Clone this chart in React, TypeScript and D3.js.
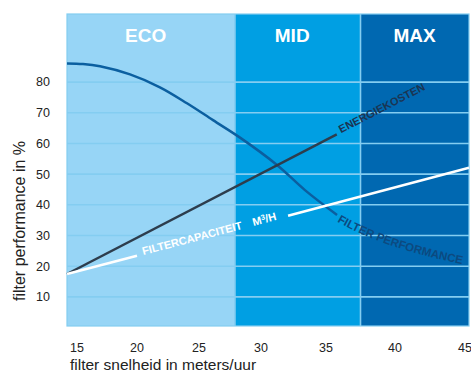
import React from 'react';
import * as d3 from 'd3';

const W = 471;
const H = 372;

// Tick labels
const xTicks = [15, 20, 25, 30, 35, 40, 45];
const yTicks = [10, 20, 30, 40, 50, 60, 70, 80];

// Bands (zones)
const bandNames = ['ECO', 'MID', 'MAX'];
const bandStart = [14.2, 27.9, 37.5];
const bandEnd = [27.9, 37.5, 45.3];
const bandLabelX = [20.7, 32.4, 41.4];
const bandColors = ['#97d5f6', '#009fe3', '#0068b1'];
const bandLabelY = 93.1;

// Series: filter performance (curve)
const perfX = [14.2, 15.5, 16.92, 19.42, 21.85, 24.03, 26.13, 28.31, 31.23, 33.38, 35.8];
const perfY = [86.1, 85.9, 85.15, 82.5, 78.3, 73.1, 67.6, 61.9, 53.0, 44.8, 36.7];

// Series: energiekosten (straight)
const energyX = [14.2, 35.78];
const energyY = [17.45, 62.98];

// Series: filtercapaciteit (straight, broken for label)
const capX = [14.2, 20.0, 32.08, 45.3];
const capY = [17.45, 23.4, 36.45, 52.1];

const FONT = '"Liberation Sans", Arial, Helvetica, sans-serif';
const GRID = '#84cdf1';

export default function App() {
  const x = d3
    .scaleLinear()
    .domain([14.2, 15, 20, 25, 30, 35, 40, 45, 45.3])
    .range([67, 77, 137, 199, 261, 326, 395, 465, 469]);
  const y = d3.scaleLinear().domain([0.5, 102.2]).range([326, 14]);

  const xMin = bandStart[0];
  const xMax = bandEnd[bandEnd.length - 1];
  const yMin = 0.5;
  const yMax = 102.2;

  const perfPts: [number, number][] = perfX.map((v, i) => [x(v), y(perfY[i])]);
  const energyPts: [number, number][] = energyX.map((v, i) => [x(v), y(energyY[i])]);
  const capPts: [number, number][] = capX.map((v, i) => [x(v), y(capY[i])]);

  const curve = d3.line().curve(d3.curveCatmullRom.alpha(0.5));
  const straight = d3.line();

  const eAng = (Math.atan2(energyPts[1][1] - energyPts[0][1], energyPts[1][0] - energyPts[0][0]) * 180) / Math.PI;
  const cAng = (Math.atan2(capPts[3][1] - capPts[0][1], capPts[3][0] - capPts[0][0]) * 180) / Math.PI;

  const pEnd = perfPts[perfPts.length - 1];
  const perfLabelPath = `M${pEnd[0]},${pEnd[1] + 6.5} Q${pEnd[0] + 48},${pEnd[1] + 35} ${pEnd[0] + 140},${pEnd[1] + 52}`;

  return (
    <svg width={W} height={H} style={{ position: 'absolute', left: 0, top: 0 }} fontFamily={FONT}>
      <rect x={0} y={0} width={W} height={H} fill="#ffffff" />
      {bandNames.map((b, i) => (
        <rect
          key={b}
          x={x(bandStart[i])}
          y={y(yMax)}
          width={x(bandEnd[i]) - x(bandStart[i])}
          height={y(yMin) - y(yMax)}
          fill={bandColors[i]}
        />
      ))}
      {yTicks.map((t) => (
        <line key={t} x1={x(xMin)} x2={x(xMax)} y1={y(t)} y2={y(t)} stroke={GRID} strokeWidth={1.6} />
      ))}
      {bandStart.slice(1).map((v, i) => (
        <line key={i} x1={x(v)} x2={x(v)} y1={y(yMax)} y2={y(yMin)} stroke={GRID} strokeWidth={1.6} />
      ))}
      <rect
        x={x(xMin)}
        y={y(yMax)}
        width={x(xMax) - x(xMin)}
        height={y(yMin) - y(yMax)}
        fill="none"
        stroke={GRID}
        strokeWidth={1.2}
      />
      {bandNames.map((b, i) => (
        <text
          key={b}
          x={x(bandLabelX[i])}
          y={y(bandLabelY)}
          textAnchor="middle"
          fill="#ffffff"
          fontWeight="bold"
          fontSize={19}
        >
          {b}
        </text>
      ))}

      <path d={curve(perfPts) || ''} fill="none" stroke="#0b5fa0" strokeWidth={2.5} />
      <path d={straight(energyPts) || ''} fill="none" stroke="#2d3d4d" strokeWidth={2.5} />
      <path d={straight([capPts[0], capPts[1]]) || ''} fill="none" stroke="#ffffff" strokeWidth={2.5} />
      <path d={straight([capPts[2], capPts[3]]) || ''} fill="none" stroke="#ffffff" strokeWidth={2.5} />

      <text
        transform={`translate(${energyPts[1][0]},${energyPts[1][1]}) rotate(${eAng})`}
        x={4.4}
        y={1}
        fill="#1b3553"
        fontWeight="bold"
        fontSize={11}
      >
        ENERGIEKOSTEN
      </text>
      <text
        transform={`translate(${capPts[1][0]},${capPts[1][1]}) rotate(${cAng})`}
        x={6.3}
        y={1}
        fill="#ffffff"
        fontWeight="bold"
        fontSize={11}
      >
        FILTERCAPACITEIT
        <tspan dx={11}>
          M<tspan fontSize={7.5} dy={-3.5}>3</tspan>
          <tspan dy={3.5}>/H</tspan>
        </tspan>
      </text>
      <path id="perfLabelPath" d={perfLabelPath} fill="none" stroke="none" />
      <text fill="#0c4a80" fontWeight="bold" fontSize={11.5}>
        <textPath href="#perfLabelPath">FILTER PERFORMANCE</textPath>
      </text>

      {yTicks.map((t) => (
        <text key={t} x={50} y={y(t)} dy="0.35em" textAnchor="end" fontSize={12.5} fill="#222222">
          {t}
        </text>
      ))}
      {xTicks.map((t) => (
        <text key={t} x={x(t)} y={352} textAnchor="middle" fontSize={12.5} fill="#222222">
          {t}
        </text>
      ))}
      <text transform="translate(25,221) rotate(-90)" textAnchor="middle" fontSize={16} fill="#222222">
        filter performance in %
      </text>
      <text x={70} y={370} fontSize={15.5} fill="#222222">
        filter snelheid in meters/uur
      </text>
    </svg>
  );
}
